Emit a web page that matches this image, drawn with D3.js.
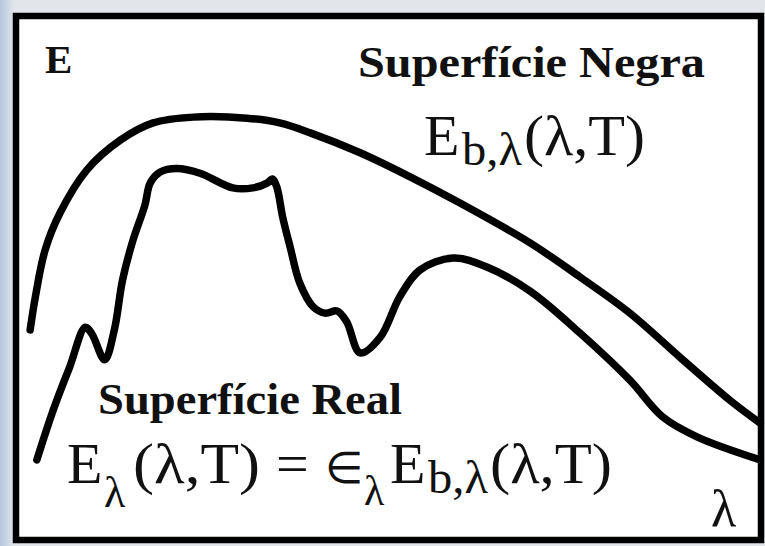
<!DOCTYPE html>
<html>
<head>
<meta charset="utf-8">
<script src="https://cdn.jsdelivr.net/npm/d3@7"></script>
<style>
  html, body { margin: 0; padding: 0; background: #e2e6eb; }
  svg { display: block; }
  .lbl { font-family: "Liberation Serif", "Times New Roman", serif; fill: #111; }
</style>
</head>
<body>
<div id="chart"></div>
<script>
// --- data: spectral emissive power (0-100 units) ---
// black body curve E_b,λ(λ,T)
var blackX = [1.9, 2.6, 3.9, 5.9, 9.5, 14.0, 18.4, 23.8, 31.0, 35.4, 39.5, 46.2, 52.9, 59.6, 69.0, 75.7, 82.4, 89.1, 95.8, 99.9];
var blackY = [40.1, 46.4, 55.3, 62.4, 70.6, 76.3, 79.6, 80.7, 80.5, 79.6, 77.7, 73.9, 69.3, 64.3, 56.7, 50.2, 43.3, 34.9, 26.7, 22.3];
// real surface curve E_λ(λ,T)
var realX = [2.8, 5.0, 7.2, 9.3, 10.2, 11.9, 13.2, 14.3, 15.7, 17.3, 18.0, 19.3, 21.6, 24.7, 29.1, 31.8, 33.7, 34.4, 35.0, 35.8, 36.8, 38.1, 39.9, 41.5, 43.1, 44.4, 46.2, 48.9, 51.5, 54.2, 58.7, 63.2, 69.0, 75.7, 82.4, 86.8, 91.4, 99.9];
var realY = [15.3, 24.8, 33.0, 40.6, 39.3, 34.4, 40.1, 49.6, 57.2, 63.9, 68.1, 70.2, 70.9, 70.0, 67.2, 67.2, 68.1, 68.9, 67.4, 61.6, 55.9, 49.0, 44.5, 43.3, 43.7, 41.6, 35.7, 38.7, 46.4, 51.5, 53.8, 52.1, 47.5, 39.5, 30.5, 23.5, 19.7, 15.3];

var W = 765, H = 546;
var svg = d3.select("#chart").append("svg").attr("width", W).attr("height", H);

// backdrop: light grey with a bluish left edge
var defs = svg.append("defs");
var lg = defs.append("linearGradient").attr("id", "edge").attr("x1", 0).attr("x2", 1);
lg.append("stop").attr("offset", 0).attr("stop-color", "#b4c6dc");
lg.append("stop").attr("offset", 1).attr("stop-color", "#e2e6eb");
svg.append("rect").attr("width", W).attr("height", H).attr("fill", "#e2e6eb");
svg.append("rect").attr("width", 14).attr("height", H).attr("fill", "url(#edge)");

// frame
var L = 16, T = 16, R = 761, B = 540;
svg.append("rect").attr("x", L).attr("y", T).attr("width", R - L).attr("height", B - T)
  .attr("fill", "#fff").attr("stroke", "#000").attr("stroke-width", 6.5);

var x = d3.scaleLinear().domain([0, 100]).range([L, R]);
var y = d3.scaleLinear().domain([0, 100]).range([B, T]);

var line = d3.line()
  .x(function (d) { return x(d[0]); })
  .y(function (d) { return y(d[1]); })
  .curve(d3.curveCatmullRom.alpha(0.5));

function pairs(xs, ys) { return xs.map(function (v, i) { return [v, ys[i]]; }); }

[pairs(blackX, blackY), pairs(realX, realY)].forEach(function (pts) {
  svg.append("path").datum(pts).attr("d", line)
    .attr("fill", "none").attr("stroke", "#000").attr("stroke-width", 7.5)
    .attr("stroke-linecap", "round").attr("stroke-linejoin", "round");
});

// --- labels ---
function txt(s, px, py, size, bold, len) {
  var t = svg.append("text").attr("class", "lbl")
    .attr("x", px).attr("y", py)
    .style("font-size", size + "px")
    .style("font-weight", bold ? "bold" : "normal")
    .text(s);
  if (len) t.attr("textLength", len).attr("lengthAdjust", "spacingAndGlyphs");
  return t;
}

// formula: one text, pieces as tspans [string, x, y, size, length]
function formula(parts) {
  var t = svg.append("text").attr("class", "lbl");
  parts.forEach(function (p) {
    var s = t.append("tspan").attr("x", p[1]).attr("y", p[2])
      .style("font-size", p[3] + "px").text(p[0]);
    if (p[4]) s.attr("textLength", p[4]).attr("lengthAdjust", "spacingAndGlyphs");
  });
  return t;
}

txt("E", 45, 73, 41, true);
txt("Superfície Negra", 358, 77, 44, true, 347);
txt("Superfície Real", 98, 414, 44, true, 304);

// E_b,λ(λ,T)
formula([
  ["E", 424, 155, 58],
  ["b,λ", 462, 165, 46, 60],
  ["(λ,T)", 524, 155, 58, 121]
]);

// E_λ(λ,T) = ∈_λ E_b,λ(λ,T)
formula([
  ["E", 67, 483, 58],
  ["λ", 104, 507, 44],
  ["(λ,T)", 133, 483, 58, 127],
  ["=", 276, 483, 58],
  ["∈", 325, 483, 44],
  ["λ", 364, 505, 42],
  ["E", 390, 483, 58],
  ["b,λ", 428, 493, 46, 60],
  ["(λ,T)", 490, 483, 58, 122]
]);

txt("λ", 711, 526, 52);
</script>
</body>
</html>
